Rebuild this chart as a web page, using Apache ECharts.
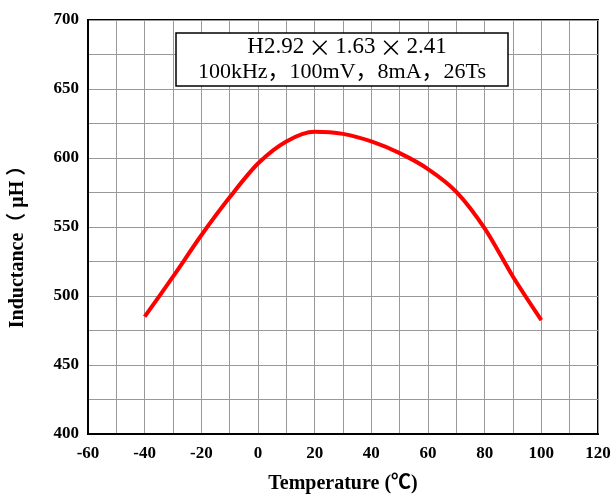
<!DOCTYPE html>
<html>
<head>
<meta charset="utf-8">
<script src="https://cdn.jsdelivr.net/npm/echarts@6/dist/echarts.min.js"></script>
<style>html,body{margin:0;padding:0;background:#fff}#c{width:612px;height:495px}</style>
</head>
<body>
<div id="c"></div>
<script>
var temperatures = [-40, -30, -20, -10, 0, 10, 20, 30, 40, 50, 60, 70, 80, 90, 100];
var inductance = [485, 514, 544, 571.5, 596, 612, 619, 617.5, 612, 603.5, 592, 575.5, 549, 514, 482.5];
var xTitle = 'Temperature (\u2103)';
var yTitleParts = ['Inductance', '\uff08 \u03bcH \uff09'];
var boxLine1 = ['H2.92', '\u00d7', '1.63', '\u00d7', '2.41'];
var boxLine2 = '100kHz\uff0c100mV\uff0c8mA\uff0c26Ts';

var chart = echarts.init(document.getElementById('c'));
var data = temperatures.map(function (t, i) { return [t, inductance[i]]; });
var labelFont = {color: '#000', fontWeight: 'bold', fontFamily: 'Liberation Serif', fontSize: 17};
var line1Rich = boxLine1.map(function (s, i) { return i % 2 ? '{x|' + s + '}' : '{n|' + s + '}'; }).join('');

chart.setOption({
  animation: false,
  backgroundColor: '#fff',
  grid: {left: 88, right: 14, top: 20, bottom: 61, show: true, borderColor: '#000', borderWidth: 2, outerBoundsMode: 'none'},
  xAxis: {
    type: 'value', min: -60, max: 120, interval: 10,
    axisLine: {show: true, onZero: false, lineStyle: {color: '#000', width: 2}},
    axisTick: {show: false},
    splitLine: {show: true, lineStyle: {color: '#999', width: 1}},
    axisLabel: Object.assign({margin: 11, formatter: function (v) { return v % 20 === 0 ? String(v) : ''; }}, labelFont)
  },
  yAxis: {
    type: 'value', min: 400, max: 700, interval: 25,
    axisLine: {show: true, onZero: false, lineStyle: {color: '#000', width: 2}},
    axisTick: {show: false},
    splitLine: {show: true, lineStyle: {color: '#999', width: 1}},
    axisLabel: Object.assign({margin: 9, formatter: function (v) { return v % 50 === 0 ? String(v) : ''; }}, labelFont)
  },
  series: [{
    type: 'line', data: data, smooth: 0.3, showSymbol: false,
    lineStyle: {color: '#ff0000', width: 4}
  }],
  graphic: [
    {type: 'rect', shape: {x: 176, y: 33, width: 332, height: 53}, style: {fill: '#fff', stroke: '#000', lineWidth: 1.5}, z: 100},
    {type: 'text', x: 347, y: 47, z: 101, style: {
      text: line1Rich, align: 'center', verticalAlign: 'middle',
      rich: {
        n: {fontFamily: 'Liberation Serif', fontSize: 23, fill: '#000'},
        x: {fontFamily: 'Noto Sans CJK SC', fontSize: 23, fill: '#000', padding: [0, 4, 0, 4]}
      }
    }},
    {type: 'text', x: 342, y: 72, z: 101, style: {
      text: boxLine2, align: 'center', verticalAlign: 'middle',
      fontFamily: 'Liberation Serif, Noto Sans CJK SC', fontSize: 22, fill: '#000'
    }},
    {type: 'text', x: 343, y: 484, style: {
      text: xTitle, align: 'center', verticalAlign: 'middle',
      fontFamily: 'Liberation Serif, Noto Sans CJK SC', fontWeight: 'bold', fontSize: 20, fill: '#000'
    }},
    {type: 'text', x: 18, y: 242, rotation: Math.PI / 2, style: {
      text: '{a|' + yTitleParts[0] + '}{b|' + yTitleParts[1] + '}', align: 'center', verticalAlign: 'middle',
      rich: {
        a: {fontFamily: 'Liberation Serif', fontWeight: 'bold', fontSize: 20, fill: '#000'},
        b: {fontFamily: 'Liberation Serif, Noto Sans CJK SC', fontWeight: 'bold', fontSize: 20, fill: '#000'}
      }
    }}
  ]
});
</script>
</body>
</html>
